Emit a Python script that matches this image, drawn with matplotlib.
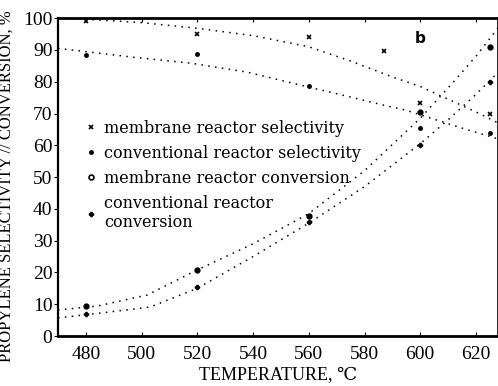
import matplotlib
matplotlib.use("Agg")
import matplotlib.pyplot as plt
from matplotlib.lines import Line2D

# measured data points
ms_temp = [480, 520, 560, 587, 600, 625]
ms_val = [99.2, 95.0, 94.0, 89.6, 73.3, 70.0]
cs_temp = [480, 520, 560, 600, 625]
cs_val = [88.5, 88.8, 78.6, 65.4, 63.8]
mc_temp = [480, 520, 560, 600, 625]
mc_val = [9.5, 20.8, 37.8, 70.4, 91.0]
cc_temp = [480, 520, 560, 600, 625]
cc_val = [7.0, 15.5, 36.0, 60.0, 80.0]

# dotted trend curves
ms_curve_t = [470, 485, 500, 520, 540, 560, 575, 590, 600, 610, 620, 628]
ms_curve_v = [100, 99.4, 98.6, 96.8, 94.5, 91.0, 86.5, 81.5, 78.5, 74.5, 70.5, 67.0]
cs_curve_t = [470, 497, 518, 538, 560, 572, 587, 595, 605, 615, 628]
cs_curve_v = [90.5, 87.7, 85.8, 83.0, 78.3, 75.8, 72.6, 71.0, 68.2, 65.4, 62.0]
mc_curve_t = [470, 484, 502, 520, 540, 560, 580, 600, 612, 620, 628]
mc_curve_v = [8.2, 9.4, 12.9, 20.8, 29.0, 38.5, 52.0, 68.5, 80.0, 88.0, 97.0]
cc_curve_t = [470, 485, 503, 520, 540, 560, 580, 600, 610, 620, 628]
cc_curve_v = [5.7, 7.2, 9.1, 15.0, 25.0, 35.5, 47.0, 60.5, 68.0, 76.0, 83.0]

x_ticks = [480, 500, 520, 540, 560, 580, 600, 620]
y_ticks = [0, 10, 20, 30, 40, 50, 60, 70, 80, 90, 100]

labels = ["membrane reactor selectivity", "conventional reactor selectivity",
          "membrane reactor conversion", "conventional reactor\nconversion"]

serif = ["Liberation Serif", "DejaVu Serif"]
plt.rcParams["font.family"] = serif

fig = plt.figure(figsize=(4.98, 3.86), dpi=100)
ax = fig.add_axes([0.1165, 0.1295, 0.884, 0.8235])

dot = (0, (1, 3.5))
for t, v in [(ms_curve_t, ms_curve_v), (cs_curve_t, cs_curve_v),
             (mc_curve_t, mc_curve_v), (cc_curve_t, cc_curve_v)]:
    ax.plot(t, v, color="black", linestyle=dot, linewidth=1.1)

ax.plot(ms_temp, ms_val, linestyle="none", marker="x", ms=3, mew=1.2, color="black")
ax.plot(cs_temp, cs_val, linestyle="none", marker="o", ms=2.5, color="black")
ax.plot(mc_temp, mc_val, linestyle="none", marker="o", ms=3.5, mfc="black", mec="black")
ax.plot(cc_temp, cc_val, linestyle="none", marker="P", ms=3, color="black")

ax.set_xlim(470, 628)
ax.set_ylim(0, 100)
ax.set_xticks(x_ticks)
ax.set_yticks(y_ticks)
ax.tick_params(axis="both", labelsize=14, length=3, width=0.8)
ax.tick_params(axis="x", direction="in", top=True, pad=7)
ax.tick_params(axis="y", direction="out", right=True, pad=1)

for s in ax.spines.values():
    s.set_linewidth(1.2)
ax.spines["top"].set_linewidth(2)
ax.spines["bottom"].set_linewidth(2)
ax.spines["left"].set_linewidth(1.6)

ax.set_xlabel("TEMPERATURE, ℃", fontsize=13, labelpad=3)
ax.set_ylabel("PROPYLENE SELECTIVITY // CONVERSION, %", fontsize=12)
ax.yaxis.set_label_coords(-0.098, 0.47)

ax.text(600, 93.5, "b", fontsize=11, fontweight="bold", family=["DejaVu Sans"],
        ha="center", va="center")

handles = [
    Line2D([], [], linestyle="none", marker="x", ms=3, mew=1.2, color="black"),
    Line2D([], [], linestyle="none", marker="o", ms=2.5, color="black"),
    Line2D([], [], linestyle="none", marker="o", ms=3.5, mfc="white", mec="black", mew=1.2),
    Line2D([], [], linestyle="none", marker="P", ms=3, color="black"),
]
leg = ax.legend(handles, labels, loc="upper left", bbox_to_anchor=(0.05, 0.70),
                frameon=False, prop={"family": "DejaVu Serif", "size": 11.5},
                handlelength=0.6, handletextpad=0.5,
                labelspacing=0.5, borderaxespad=0)

fig.savefig("out.png", dpi=100)
